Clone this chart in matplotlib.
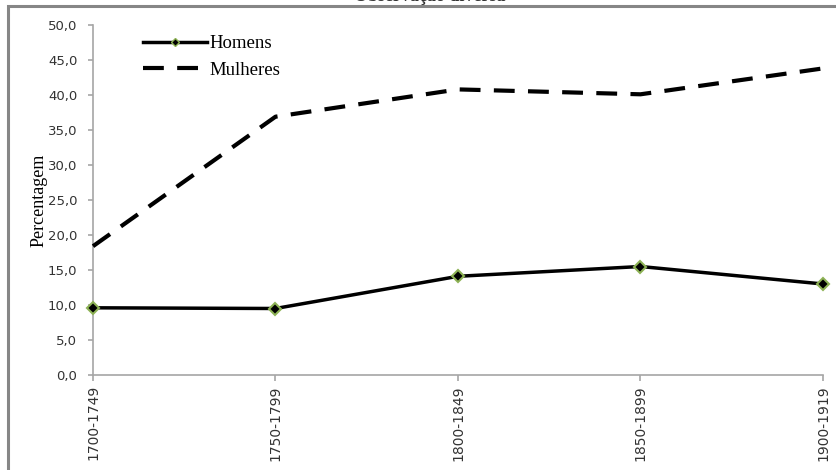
import matplotlib
matplotlib.use("Agg")
import matplotlib.pyplot as plt
from matplotlib.patches import Rectangle

categories = ["1700-1749", "1750-1799", "1800-1849", "1850-1899", "1900-1919"]
homens = [9.6, 9.5, 14.1, 15.5, 13.0]
mulheres = [18.4, 36.9, 40.8, 40.1, 43.8]
yticks = [0, 5, 10, 15, 20, 25, 30, 35, 40, 45, 50]
ytick_labels = ["0,0", "5,0", "10,0", "15,0", "20,0", "25,0", "30,0", "35,0", "40,0", "45,0", "50,0"]

W, H = 837, 470
fig = plt.figure(figsize=(W / 100, H / 100), dpi=100)

# outer chart border
fig.patches.append(Rectangle((8 / W, -0.05), 1.2, 1 - 6 / H + 0.05, transform=fig.transFigure,
                             fill=False, edgecolor="#868686", linewidth=2.2, zorder=0))

left, right, top, bottom = 93, 823, 25, 375
ax = fig.add_axes([left / W, 1 - bottom / H, (right - left) / W, (bottom - top) / H])
ax.set_facecolor("none")

x = list(range(len(categories)))
ax.plot(x, homens, color="black", linewidth=2.5, marker="D", markersize=6,
        markerfacecolor="black", markeredgecolor="#8db255", markeredgewidth=1.5,
        label="Homens", clip_on=False, zorder=3)
ax.plot(x, mulheres, color="black", linewidth=3, linestyle=(0, (5, 3.2)),
        label="Mulheres", clip_on=False, zorder=3)

ax.set_xlim(0, len(categories) - 1)
ax.set_ylim(0, 50)
ax.set_yticks(yticks)
ax.set_yticklabels(ytick_labels, fontfamily="DejaVu Sans", fontsize=9.5, color="#333333")
ax.set_xticks(x)
ax.set_xticklabels(categories, rotation=90, fontfamily="DejaVu Sans", fontsize=10, color="#333333")

for s in ["top", "right"]:
    ax.spines[s].set_visible(False)
for s in ["left", "bottom"]:
    ax.spines[s].set_color("#a6a6a6")
    ax.spines[s].set_linewidth(1.2)
ax.tick_params(axis="y", direction="out", length=3.8, color="#a6a6a6", width=1.2, pad=7.5)
ax.tick_params(axis="x", direction="out", length=4.3, color="#a6a6a6", width=1.2, pad=3)

ax.set_ylabel("Percentagem", fontfamily="Liberation Serif", fontsize=13, labelpad=0)

leg = ax.legend(loc="upper left", bbox_to_anchor=(143 / W, 1 - 35 / H), bbox_transform=fig.transFigure,
                frameon=False, prop={"family": "Liberation Serif", "size": 13.5},
                handlelength=3.4, handletextpad=0.16, labelspacing=0.52,
                borderpad=0, borderaxespad=0)
leg.legend_handles[0].set_markersize(4)
leg.legend_handles[0].set_markeredgewidth(1)

fig.text(430 / W, 1 + 12 / H, "Observação diversa", ha="center", va="top",
         fontfamily="Liberation Serif", fontsize=13, fontweight="bold", color="#333333")

fig.savefig("out.png", dpi=100)
